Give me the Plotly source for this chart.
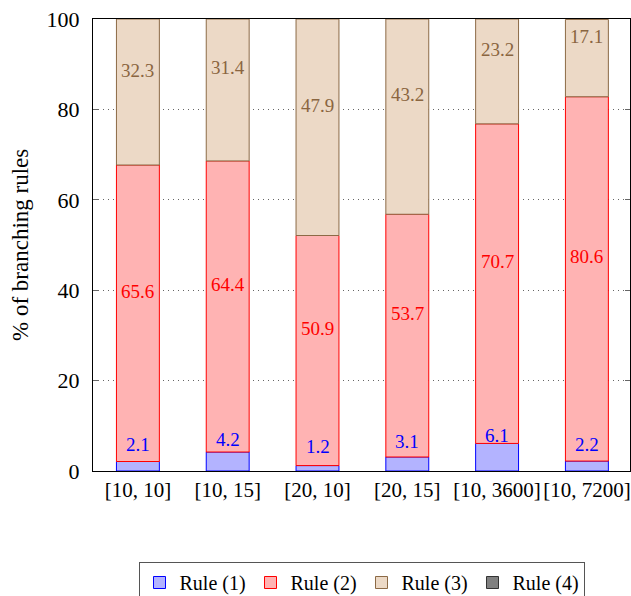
import plotly.graph_objects as go

categories = ["[10, 10]", "[10, 15]", "[20, 10]", "[20, 15]", "[10, 3600]", "[10, 7200]"]
rule1 = [2.1, 4.2, 1.2, 3.1, 6.1, 2.2]
rule2 = [65.6, 64.4, 50.9, 53.7, 70.7, 80.6]
rule3 = [32.3, 31.4, 47.9, 43.2, 23.2, 17.1]
rule4 = [0, 0, 0, 0, 0, 0]
y_title = "% of branching rules"

series = [
    ("Rule (1)", rule1, "#b3b3ff", "#0000ff", "#0000ff", True),
    ("Rule (2)", rule2, "#ffb3b3", "#ff0000", "#ff0000", True),
    ("Rule (3)", rule3, "#ecd9c6", "#8c6a46", "#8a6540", True),
    ("Rule (4)", rule4, "#808080", "#333333", "#000000", False),
]

FONT = "Liberation Serif"
x_idx = list(range(len(categories)))
fig = go.Figure()
annotations = []
base = [0.0] * len(categories)
for name, vals, fill, line, tcol, label in series:
    yvals = [v if v else None for v in vals]
    fig.add_trace(go.Bar(
        x=x_idx, y=yvals, base=base[:], name=name,
        marker=dict(color=fill, line=dict(color=line, width=1)),
        width=0.478,
    ))
    if label:
        for i, v in enumerate(vals):
            annotations.append(dict(
                x=i, y=base[i] + v / 2, text=f"{v:.1f}", showarrow=False,
                yshift=22, font=dict(family=FONT, size=19, color=tcol),
                xref="x", yref="y",
            ))
    base = [b + v for b, v in zip(base, vals)]

annotations.append(dict(
    text=y_title, xref="paper", yref="paper", x=0, y=0.5, xshift=-73,
    xanchor="center", yanchor="middle", textangle=-90, showarrow=False,
    font=dict(family=FONT, size=23, color="black"),
))

fig.update_layout(
    width=631, height=596,
    barmode="overlay",
    plot_bgcolor="white", paper_bgcolor="white",
    margin=dict(l=93, r=1, t=19, b=125),
    font=dict(family=FONT, size=22, color="black"),
    showlegend=True,
    legend=dict(
        orientation="h", x=0.5, xanchor="center",
        yref="container", y=(596 - 562) / 596, yanchor="top",
        bordercolor="#555555", borderwidth=1, font=dict(family=FONT, size=20),
        itemwidth=30, tracegroupgap=0, traceorder="normal",
        entrywidth=66,
    ),
    annotations=annotations,
)
fig.update_xaxes(
    range=[-0.5, 5.48], tickmode="array", tickvals=x_idx, ticktext=categories,
    showline=True, linecolor="black", linewidth=1, mirror=True,
    showgrid=False, ticks="", tickfont=dict(family=FONT, size=21),
    zeroline=False, automargin=False,
)
fig.update_yaxes(
    range=[0, 100], tickvals=[0, 20, 40, 60, 80, 100],
    showline=True, linecolor="black", linewidth=1, mirror="ticks",
    showgrid=True, gridcolor="#666666", griddash="1px,4px", gridwidth=1,
    ticks="inside", ticklen=5, tickcolor="#666666", ticklabelstandoff=8,
    tickfont=dict(family=FONT, size=22),
    zeroline=False, automargin=False,
)
fig.write_html(
    "out.html",
    config={"displayModeBar": False},
    post_script="document.body.style.margin='0';document.body.style.overflow='hidden';",
)
